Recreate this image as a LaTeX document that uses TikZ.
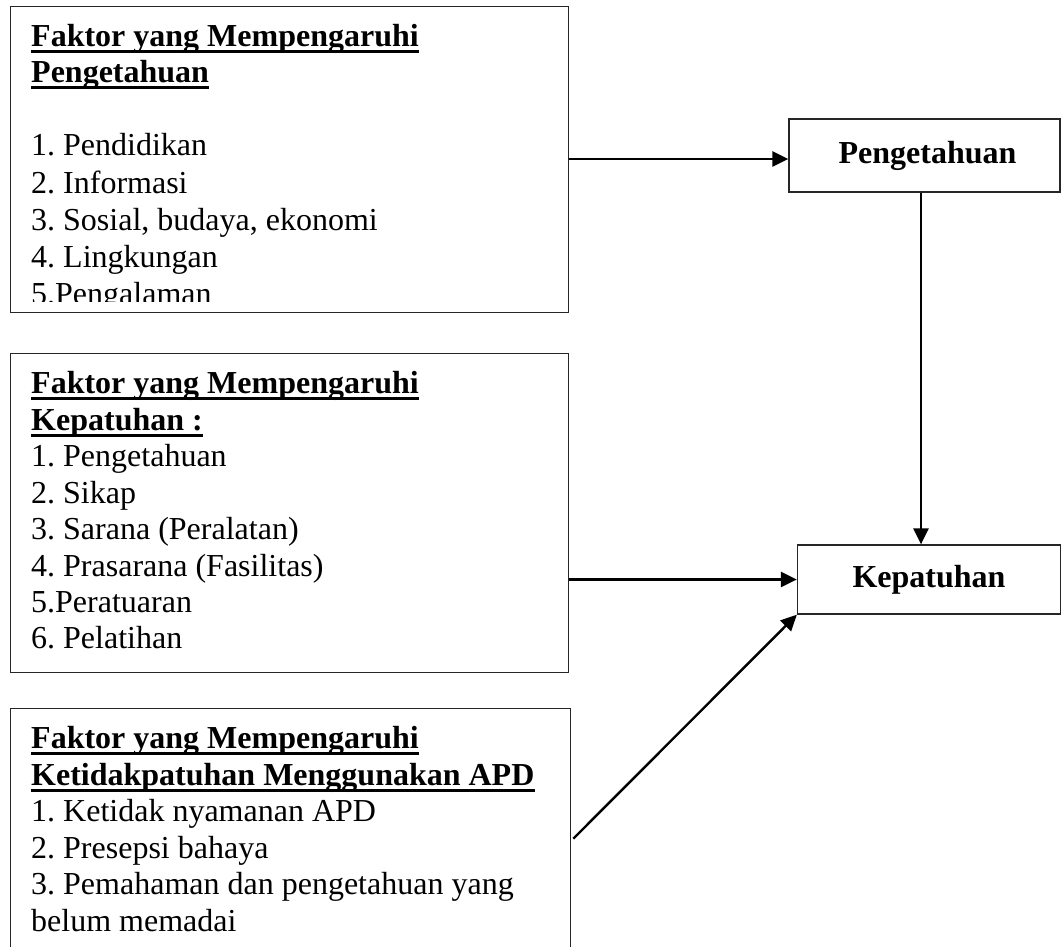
\documentclass[tikz,border=0pt]{standalone}
\usepackage{fontspec}
\setmainfont{Liberation Serif}
\usetikzlibrary{arrows.meta}
\frenchspacing
\begin{document}
\begin{tikzpicture}[x=1pt,y=-1pt,
  frame/.style={draw=black!85, line width=1.3pt, inner sep=0pt, anchor=north west},
  txt/.style={inner sep=0pt, anchor=base west, font=\fontsize{32}{37}\selectfont},
  hd/.style={inner sep=0pt, anchor=base west, font=\fontsize{32}{37}\selectfont\bfseries},
  ul/.style={line width=2.8pt},
  arr/.style={line width=2.4pt, -{Triangle[length=16pt,width=15pt]}},
  target/.style={draw=black!85, line width=1.3pt, inner sep=0pt, anchor=center, font=\fontsize{32}{37}\selectfont\bfseries}]
\clip (0,0) rectangle (1062,946);
\fill[white] (0,0) rectangle (1062,946);

% box 1
\node[frame, minimum width=558pt, minimum height=306pt] (f1) at (10,6) {};
\begin{scope}
\clip (10,6) rectangle (568,301);
\node[hd] (h1a) at (31,46) {Faktor yang Mempengaruhi};
\node[hd] (h1b) at (31,82) {Pengetahuan};
\node[txt] (a1) at (31,155) {1. Pendidikan};
\node[txt] (a2) at (31,193) {2. Informasi};
\node[txt] (a3) at (31,230) {3. Sosial, budaya, ekonomi};
\node[txt] (a4) at (31,267) {4. Lingkungan};
\node[txt] (a5) at (31,304) {5.Pengalaman};
\end{scope}
\draw[ul] ([yshift=-5.5pt]h1a.base west) -- ([yshift=-5.5pt]h1a.base east);
\draw[ul] ([yshift=-5.5pt]h1b.base west) -- ([yshift=-5.5pt]h1b.base east);

% box 2
\node[frame, minimum width=558pt, minimum height=319pt] (f2) at (10,353) {};
\node[hd] (h2a) at (31,393) {Faktor yang Mempengaruhi};
\node[hd] (h2b) at (31,430) {Kepatuhan :};
\node[txt] (b1) at (31,466) {1. Pengetahuan};
\node[txt] (b2) at (31,503) {2. Sikap};
\node[txt] (b3) at (31,539) {3. Sarana (Peralatan)};
\node[txt] (b4) at (31,576) {4. Prasarana (Fasilitas)};
\node[txt] (b5) at (31,612) {5.Peratuaran};
\node[txt] (b6) at (31,648) {6. Pelatihan};
\draw[ul] ([yshift=-5.5pt]h2a.base west) -- ([yshift=-5.5pt]h2a.base east);
\draw[ul] ([yshift=-5.5pt]h2b.base west) -- ([yshift=-5.5pt]h2b.base east);

% box 3
\node[frame, minimum width=560pt, minimum height=260pt] (f3) at (10,708) {};
\node[hd] (h3a) at (31,748) {Faktor yang Mempengaruhi};
\node[hd] (h3b) at (31,785) {Ketidakpatuhan Menggunakan APD};
\node[txt] (c1) at (31,821) {1. Ketidak nyamanan APD};
\node[txt] (c2) at (31,858) {2. Presepsi bahaya};
\node[txt] (c3) at (31,894) {3. Pemahaman dan pengetahuan yang};
\node[txt] (c4) at (31,931) {belum memadai};
\draw[ul] ([yshift=-5.5pt]h3a.base west) -- ([yshift=-5.5pt]h3a.base east);
\draw[ul] ([yshift=-5.5pt]h3b.base west) -- ([yshift=-5.5pt]h3b.base east);

% targets
\node[target, minimum width=271pt, minimum height=73pt] (p) at (924.5,155.5) {\hspace*{6pt}Pengetahuan};
\node[target, minimum width=263pt, minimum height=69pt] (k) at (929,579.5) {Kepatuhan};

% connectors
\draw[arr] (f1.east |- 0,159) -- (p.west |- 0,159);
\draw[arr] ([xshift=-3.5pt]p.south) -- ([xshift=-3.5pt]p.south |- k.north);
\draw[arr] (f2.east |- k.west) -- (k.west);
\draw[arr] ([xshift=2pt]f3.east) -- (k.south west);
\end{tikzpicture}
\end{document}
